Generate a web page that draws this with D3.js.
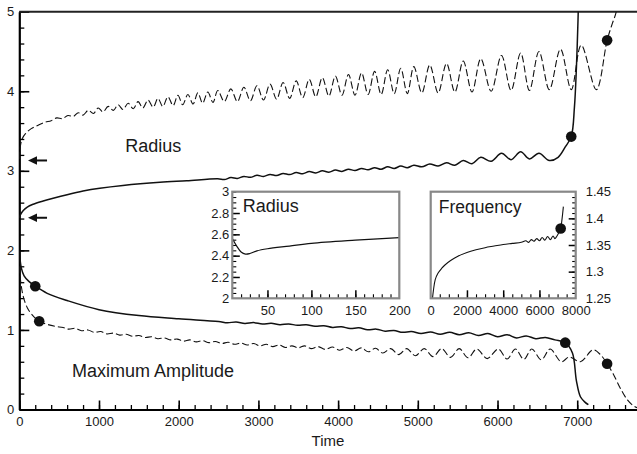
<!DOCTYPE html>
<html>
<head>
<meta charset="utf-8">
<script src="https://cdn.jsdelivr.net/npm/d3@7"></script>
<style>
  body { margin: 0; background: #fff; }
  svg { display: block; font-family: 'Liberation Sans', Arial, Helvetica, sans-serif; }
</style>
</head>
<body>
<div id="chart"></div>
<script>
// ---- data: [time, value] ----
var radiusSolid = [
  [0, 2.41], [15, 2.45], [50, 2.50], [100, 2.545], [175, 2.58], [300, 2.62], [425, 2.655],
  [600, 2.70], [800, 2.745], [1010, 2.78], [1300, 2.815], [1765, 2.855], [2100, 2.875],
  [2490, 2.90], [2572, 2.89], [2654, 2.915], [2736, 2.905], [2818, 2.93], [2900, 2.918],
  [2982, 2.943], [3064, 2.93], [3146, 2.955], [3228, 2.942], [3310, 2.967], [3392, 2.953],
  [3474, 2.978], [3556, 2.963], [3638, 2.99], [3720, 2.973], [3802, 3.0], [3884, 2.983],
  [3966, 3.01], [4048, 2.993], [4130, 3.02], [4212, 3.003], [4294, 3.03], [4376, 3.012],
  [4458, 3.04], [4540, 3.02], [4622, 3.05], [4704, 3.03], [4786, 3.06], [4868, 3.04],
  [4950, 3.07], [5050, 3.05], [5150, 3.085], [5255, 3.06], [5360, 3.10], [5465, 3.07],
  [5570, 3.13], [5680, 3.09], [5790, 3.17], [5920, 3.12], [6050, 3.22], [6170, 3.14],
  [6290, 3.24], [6400, 3.15], [6520, 3.22], [6650, 3.13], [6760, 3.17], [6850, 3.30],
  [6925, 3.43], [6965, 3.8], [6990, 4.3], [7010, 4.9], [7020, 5.3]
]
var radiusDashed = [
  [0, 3.15], [12, 3.3], [35, 3.40], [80, 3.47], [150, 3.53], [230, 3.57], [320, 3.61],
  [400, 3.63], [470, 3.665], [540, 3.655], [610, 3.695], [680, 3.685], [740, 3.73],
  [800, 3.70], [865, 3.76], [930, 3.72], [990, 3.79], [1050, 3.74], [1115, 3.81],
  [1180, 3.76], [1240, 3.83], [1300, 3.77], [1365, 3.85], [1430, 3.78], [1490, 3.87],
  [1550, 3.79], [1615, 3.89], [1680, 3.80], [1740, 3.91], [1800, 3.81], [1865, 3.93],
  [1930, 3.82], [1990, 3.95], [2050, 3.83], [2115, 3.96], [2180, 3.84], [2240, 3.98],
  [2300, 3.85], [2365, 3.99], [2430, 3.86], [2490, 4.01], [2572, 3.87], [2654, 4.03],
  [2736, 3.87], [2818, 4.05], [2900, 3.88], [2982, 4.07], [3064, 3.89], [3146, 4.09],
  [3228, 3.90], [3310, 4.11], [3392, 3.91], [3474, 4.13], [3556, 3.92], [3638, 4.15],
  [3720, 3.93], [3802, 4.17], [3884, 3.94], [3966, 4.19], [4048, 3.95], [4130, 4.21],
  [4212, 3.95], [4294, 4.23], [4376, 3.96], [4458, 4.25], [4540, 3.96], [4622, 4.27],
  [4704, 3.97], [4786, 4.29], [4868, 3.97], [4950, 4.31], [5050, 3.98], [5150, 4.33],
  [5255, 3.98], [5360, 4.35], [5465, 3.99], [5570, 4.38], [5680, 3.99], [5790, 4.41],
  [5920, 4.00], [6050, 4.45], [6170, 4.01], [6290, 4.48], [6400, 4.01], [6520, 4.50],
  [6650, 4.02], [6790, 4.53], [6925, 4.02], [7050, 4.58], [7240, 4.02], [7375, 4.64],
  [7440, 4.85], [7490, 5.0], [7520, 5.3]
]
var ampSolid = [
  [0, 2.0], [8, 1.9], [25, 1.78], [60, 1.68], [120, 1.61], [200, 1.55], [350, 1.46],
  [600, 1.37], [1000, 1.255], [1500, 1.18], [2000, 1.14], [2500, 1.105], [2610, 1.09],
  [2720, 1.10], [2830, 1.082], [2940, 1.092], [3050, 1.074], [3160, 1.084], [3270, 1.066],
  [3380, 1.076], [3490, 1.058], [3600, 1.066], [3710, 1.046], [3820, 1.054], [3930, 1.032],
  [4040, 1.04], [4150, 1.018], [4260, 1.026], [4370, 1.002], [4480, 1.01], [4590, 0.985],
  [4700, 0.993], [4810, 0.97], [4920, 0.98], [5040, 0.955], [5160, 0.975], [5280, 0.945],
  [5400, 0.97], [5520, 0.94], [5640, 0.965], [5760, 0.93], [5880, 0.955], [6000, 0.915],
  [6120, 0.94], [6240, 0.9], [6360, 0.925], [6480, 0.89], [6600, 0.905], [6720, 0.875],
  [6850, 0.84], [6940, 0.71], [6990, 0.36], [7040, 0.16], [7100, 0.09], [7140, 0.06]
]
var ampDashed = [
  [0, 1.80], [10, 1.68], [25, 1.55], [50, 1.42], [100, 1.28], [170, 1.18], [250, 1.11],
  [350, 1.07], [450, 1.045], [550, 1.03], [620, 1.01], [700, 1.02], [780, 0.99], [860, 1.0],
  [940, 0.97], [1020, 0.98], [1100, 0.95], [1180, 0.96], [1260, 0.935], [1340, 0.945],
  [1420, 0.92], [1500, 0.93], [1580, 0.905], [1660, 0.915], [1740, 0.89], [1820, 0.90],
  [1900, 0.875], [1980, 0.885], [2060, 0.86], [2140, 0.875], [2220, 0.85], [2300, 0.865],
  [2380, 0.84], [2460, 0.855], [2540, 0.83], [2620, 0.845], [2700, 0.82], [2780, 0.835],
  [2860, 0.81], [2940, 0.83], [3020, 0.80], [3100, 0.82], [3180, 0.79], [3260, 0.81],
  [3340, 0.78], [3420, 0.80], [3500, 0.775], [3580, 0.80], [3660, 0.765], [3750, 0.79],
  [3840, 0.755], [3930, 0.785], [4020, 0.745], [4110, 0.78], [4200, 0.735], [4290, 0.775],
  [4380, 0.725], [4470, 0.77], [4560, 0.71], [4660, 0.765], [4760, 0.69], [4860, 0.765],
  [4970, 0.675], [5080, 0.765], [5190, 0.665], [5300, 0.765], [5410, 0.655], [5520, 0.765],
  [5630, 0.65], [5740, 0.76], [5870, 0.64], [6010, 0.76], [6120, 0.635], [6225, 0.76],
  [6330, 0.63], [6430, 0.76], [6550, 0.625], [6660, 0.76], [6800, 0.60], [6900, 0.66],
  [7040, 0.60], [7200, 0.75], [7300, 0.68], [7375, 0.575], [7450, 0.45], [7550, 0.25],
  [7630, 0.12], [7700, 0.05], [7760, 0.02]
]
var mainDots = [[200, 1.55], [250, 1.11], [6925, 3.43], [7375, 4.64], [6850, 0.84], [7375, 0.575]]
var arrowTimes = [109, 348]
var arrowValues = [3.13, 2.41]

var insetRadius = [
  [10, 2.56], [15, 2.49], [20, 2.435], [25, 2.415], [30, 2.42], [38, 2.445], [50, 2.465],
  [75, 2.49], [100, 2.515], [150, 2.545], [200, 2.57]
]
var insetFreq = [
  [100, 1.25], [150, 1.265], [250, 1.285], [400, 1.297], [600, 1.306], [800, 1.313],
  [1100, 1.321], [1500, 1.329], [2000, 1.336], [2500, 1.341], [3000, 1.345], [3500, 1.348],
  [4000, 1.351], [4500, 1.353], [5000, 1.355], [5250, 1.358], [5400, 1.355], [5550, 1.36],
  [5700, 1.357], [5850, 1.362], [6000, 1.358], [6150, 1.364], [6300, 1.359], [6450, 1.366],
  [6600, 1.36], [6750, 1.367], [6850, 1.362], [6950, 1.366], [7050, 1.372], [7170, 1.381],
  [7250, 1.40], [7320, 1.422]
]
var freqDot = [[7170, 1.381]]

var xTicks = [0, 1000, 2000, 3000, 4000, 5000, 6000, 7000]
var yTicks = [0, 1, 2, 3, 4, 5]
var insetRadiusXTicks = [50, 100, 150, 200]
var insetRadiusYTicks = [2, 2.2, 2.4, 2.6, 2.8, 3]
var insetFreqXTicks = [0, 2000, 4000, 6000, 8000]
var insetFreqYTicks = [1.25, 1.3, 1.35, 1.4, 1.45]

// ---- layout ----
var width = 637
var height = 454
var svg = d3.select('#chart').append('svg').attr('width', width).attr('height', height)
var defs = svg.append('defs')

var x = d3.scaleLinear().domain([0, 7750]).range([19.3, 637])
var y = d3.scaleLinear().domain([0, 5]).range([409.5, 11.7])

var xi = d3.scaleLinear().domain([10, 200]).range([232.3, 399.3])
var yi = d3.scaleLinear().domain([2, 3]).range([298.3, 191.7])

var xf = d3.scaleLinear().domain([0, 8000]).range([430.7, 575.7])
var yf = d3.scaleLinear().domain([1.25, 1.45]).range([298.3, 191.7])

function clip (id, xs, ys) {
  defs.append('clipPath').attr('id', id).append('rect')
    .attr('x', xs.range()[0]).attr('y', ys.range()[1])
    .attr('width', xs.range()[1] - xs.range()[0])
    .attr('height', ys.range()[0] - ys.range()[1])
}
clip('clipMain', x, y)
clip('clipRad', xi, yi)
clip('clipFreq', xf, yf)

// draws an axis and styles it; keepDomain false removes the axis line
function addAxis (axis, tx, ty, opt) {
  var g = svg.append('g')
    .attr('transform', 'translate(' + tx + ',' + ty + ')')
    .call(axis)
    .attr('font-family', null)
    .attr('font-size', null)
  if (!opt.domain) g.select('.domain').remove()
  else g.select('.domain').attr('stroke-width', opt.domain)
  g.selectAll('.tick line').attr('stroke', '#000').attr('stroke-width', opt.tickWidth || 1.3)
  g.selectAll('.tick text').attr('fill', '#1a1a1a').style('font-size', '13px')
  return g
}

// ---- main axes ----
addAxis(d3.axisBottom(x).tickValues(d3.range(0, 7750, 200)).tickSize(-4.5).tickFormat(''), 0, y(0), {})
addAxis(d3.axisBottom(x).tickValues(xTicks).tickSizeInner(-9).tickSizeOuter(0).tickPadding(7).tickFormat(d3.format('d')),
  0, y(0), {domain: 2.2, tickWidth: 1.6})
addAxis(d3.axisLeft(y).tickValues(d3.range(0, 5.01, 0.2)).tickSize(-5).tickFormat(''), x(0), 0, {})
addAxis(d3.axisLeft(y).tickValues(yTicks).tickSizeInner(-10).tickSizeOuter(0).tickPadding(5).tickFormat(d3.format('d')),
  x(0), 0, {domain: 2.2, tickWidth: 1.6})
svg.append('line')
  .attr('x1', x(0)).attr('x2', x(7750))
  .attr('y1', y(5)).attr('y2', y(5))
  .attr('stroke', '#222').attr('stroke-width', 2)

// ---- main curves ----
var line = d3.line()
  .x(function (d) { return x(d[0]) })
  .y(function (d) { return y(d[1]) })
  .curve(d3.curveCatmullRom.alpha(0.5))

var plot = svg.append('g').attr('clip-path', 'url(#clipMain)')
var series = [
  {data: radiusSolid, dash: null, w: 1.5},
  {data: radiusDashed, dash: '7,3', w: 1.1},
  {data: ampSolid, dash: null, w: 1.5},
  {data: ampDashed, dash: '7,3', w: 1.1}
]
plot.selectAll('.curve')
  .data(series)
  .enter()
  .append('path')
  .attr('class', 'curve')
  .attr('d', function (d) { return line(d.data) })
  .attr('fill', 'none')
  .attr('stroke', '#111')
  .attr('stroke-width', function (d) { return d.w })
  .attr('stroke-dasharray', function (d) { return d.dash })

plot.selectAll('.dot')
  .data(mainDots)
  .enter()
  .append('circle')
  .attr('class', 'dot')
  .attr('cx', function (d) { return x(d[0]) })
  .attr('cy', function (d) { return y(d[1]) })
  .attr('r', 5.3)
  .attr('fill', '#111')

// arrows pointing at the starting radii
var arrows = svg.selectAll('.arrow')
  .data(arrowValues)
  .enter()
  .append('g')
  .attr('class', 'arrow')
arrows.append('line')
  .attr('x1', x(arrowTimes[0]) + 6).attr('x2', x(arrowTimes[1]))
  .attr('y1', function (d) { return y(d) }).attr('y2', function (d) { return y(d) })
  .attr('stroke', '#111').attr('stroke-width', 2)
arrows.append('path')
  .attr('d', function (d) {
    var tx = x(arrowTimes[0])
    var ty = y(d)
    return 'M' + tx + ',' + ty + 'L' + (tx + 9) + ',' + (ty - 4.2) + 'L' + (tx + 9) + ',' + (ty + 4.2) + 'Z'
  })
  .attr('fill', '#111')

// ---- main labels ----
svg.append('text').attr('x', x(1330)).attr('y', y(3.24)).text('Radius')
  .style('font-size', '18px').attr('fill', '#1a1a1a')
svg.append('text').attr('x', x(660)).attr('y', y(0.41)).text('Maximum Amplitude')
  .style('font-size', '18px').attr('fill', '#1a1a1a')
svg.append('text').attr('x', 328).attr('y', 446).attr('text-anchor', 'middle').text('Time')
  .style('font-size', '15px').attr('fill', '#1a1a1a')

// ---- inset: radius, early times ----
svg.append('rect')
  .attr('x', xi.range()[0]).attr('y', yi.range()[1])
  .attr('width', xi.range()[1] - xi.range()[0]).attr('height', yi.range()[0] - yi.range()[1])
  .attr('fill', '#fff')
addAxis(d3.axisBottom(xi).tickValues(d3.range(20, 200, 10)).tickSize(-4).tickFormat(''), 0, yi(2), {tickWidth: 1.1})
addAxis(d3.axisBottom(xi).tickValues(insetRadiusXTicks.slice(0, 3)).tickSize(-8).tickFormat(''), 0, yi(2), {tickWidth: 1.5})
addAxis(d3.axisBottom(xi).tickValues(insetRadiusXTicks).tickSize(0).tickPadding(7), 0, yi(2), {})
addAxis(d3.axisLeft(yi).tickValues(d3.range(2.05, 3, 0.05)).tickSize(-4).tickFormat(''), xi(10), 0, {tickWidth: 1.1})
addAxis(d3.axisLeft(yi).tickValues(insetRadiusYTicks.slice(1, 5)).tickSize(-7.5).tickFormat(''), xi(10), 0, {tickWidth: 1.5})
addAxis(d3.axisLeft(yi).tickValues(insetRadiusYTicks).tickSize(0).tickPadding(3).tickFormat(d3.format('')), xi(10), 0, {})

var lineRad = d3.line()
  .x(function (d) { return xi(d[0]) })
  .y(function (d) { return yi(d[1]) })
  .curve(d3.curveCatmullRom.alpha(0.5))
svg.append('path')
  .attr('clip-path', 'url(#clipRad)')
  .attr('d', lineRad(insetRadius))
  .attr('fill', 'none').attr('stroke', '#111').attr('stroke-width', 1.2)
svg.append('rect')
  .attr('x', xi.range()[0]).attr('y', yi.range()[1])
  .attr('width', xi.range()[1] - xi.range()[0]).attr('height', yi.range()[0] - yi.range()[1])
  .attr('fill', 'none').attr('stroke', '#888').attr('stroke-width', 2.2)
svg.append('text').attr('x', xi(22)).attr('y', yi(2.81)).text('Radius')
  .style('font-size', '18px').attr('fill', '#1a1a1a')

// ---- inset: frequency ----
svg.append('rect')
  .attr('x', xf.range()[0]).attr('y', yf.range()[1])
  .attr('width', xf.range()[1] - xf.range()[0]).attr('height', yf.range()[0] - yf.range()[1])
  .attr('fill', '#fff')
addAxis(d3.axisBottom(xf).tickValues(d3.range(500, 8000, 500)).tickSize(-4).tickFormat(''), 0, yf(1.25), {tickWidth: 1.1})
addAxis(d3.axisBottom(xf).tickValues(insetFreqXTicks.slice(1, 4)).tickSize(-8).tickFormat(''), 0, yf(1.25), {tickWidth: 1.5})
addAxis(d3.axisBottom(xf).tickValues(insetFreqXTicks).tickSize(0).tickPadding(7).tickFormat(d3.format('d')), 0, yf(1.25), {})
addAxis(d3.axisRight(yf).tickValues(d3.range(1.26, 1.45, 0.01)).tickSize(-3.5).tickFormat(''), xf(8000), 0, {tickWidth: 1.1})
addAxis(d3.axisRight(yf).tickValues(insetFreqYTicks.slice(1, 4)).tickSize(-7).tickFormat(''), xf(8000), 0, {tickWidth: 1.5})
addAxis(d3.axisRight(yf).tickValues(insetFreqYTicks).tickSize(0).tickPadding(10).tickFormat(d3.format('')), xf(8000), 0, {})

var lineFreq = d3.line()
  .x(function (d) { return xf(d[0]) })
  .y(function (d) { return yf(d[1]) })
  .curve(d3.curveCatmullRom.alpha(0.5))
var freqG = svg.append('g').attr('clip-path', 'url(#clipFreq)')
freqG.append('path')
  .attr('d', lineFreq(insetFreq))
  .attr('fill', 'none').attr('stroke', '#111').attr('stroke-width', 1.1)
freqG.selectAll('circle')
  .data(freqDot)
  .enter()
  .append('circle')
  .attr('cx', function (d) { return xf(d[0]) })
  .attr('cy', function (d) { return yf(d[1]) })
  .attr('r', 5.3)
  .attr('fill', '#111')
svg.append('rect')
  .attr('x', xf.range()[0]).attr('y', yf.range()[1])
  .attr('width', xf.range()[1] - xf.range()[0]).attr('height', yf.range()[0] - yf.range()[1])
  .attr('fill', 'none').attr('stroke', '#888').attr('stroke-width', 2.2)
svg.append('text').attr('x', xf(450)).attr('y', yf(1.41)).text('Frequency')
  .style('font-size', '17.5px').attr('fill', '#1a1a1a')
</script>
</body>
</html>
